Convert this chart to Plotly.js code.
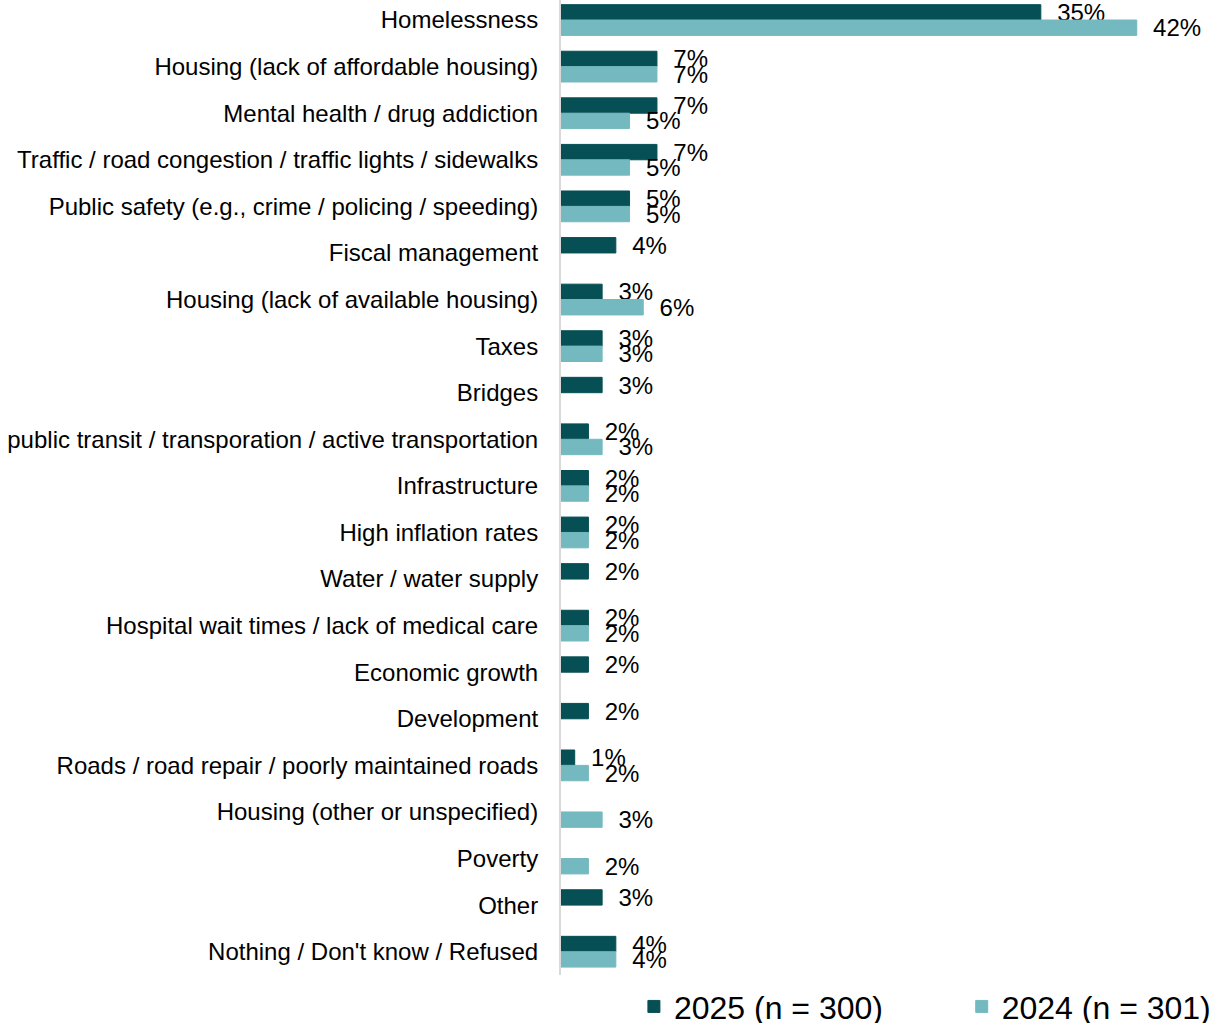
<!DOCTYPE html>
<html>
<head>
<meta charset="utf-8">
<script src="https://cdn.plot.ly/plotly-3.0.1.min.js"></script>
<style>
  html, body { margin: 0; padding: 0; background: #fff; }
  #chart { width: 1230px; height: 1023px; }
</style>
</head>
<body>
<div id="chart"></div>
<script>
const categories = [
  "Homelessness",
  "Housing (lack of affordable housing)",
  "Mental health / drug addiction",
  "Traffic / road congestion / traffic lights / sidewalks",
  "Public safety (e.g., crime / policing / speeding)",
  "Fiscal management",
  "Housing (lack of available housing)",
  "Taxes",
  "Bridges",
  "Improve  public transit / transporation / active transportation",
  "Infrastructure",
  "High inflation rates",
  "Water / water supply",
  "Hospital wait times / lack of medical care",
  "Economic growth",
  "Development",
  "Roads / road repair / poorly maintained roads",
  "Housing (other or unspecified)",
  "Poverty",
  "Other",
  "Nothing / Don't know / Refused"
];
const values2025 = [35, 7, 7, 7, 5, 4, 3, 3, 3, 2, 2, 2, 2, 2, 2, 2, 1, null, null, 3, 4];
const values2024 = [42, 7, 5, 5, 5, null, 6, 3, null, 3, 2, 2, null, 2, null, null, 2, 3, 2, null, 4];
const seriesNames = ["2025 (n = 300)", "2024 (n = 301)"];
const colors = ["#064f55", "#74b9bf"];

const pad = "\u00a0\u00a0";
function labels(vals) { return vals.map(v => v === null ? "" : pad + v + "%"); }

const fontFamily = "Liberation Sans, Arial, sans-serif";

function makeTrace(vals, name, color, legendId) {
  return {
    type: "bar",
    orientation: "h",
    y: categories,
    x: vals,
    name: name,
    legend: legendId,
    marker: { color: color, line: { color: color, width: 1 } },
    text: labels(vals),
    textposition: "outside",
    textfont: { family: fontFamily, size: 24, color: "#000000" },
    constraintext: "none",
    cliponaxis: false,
    hoverinfo: "x+y+name"
  };
}

const data = [
  makeTrace(values2025, seriesNames[0], colors[0], "legend"),
  makeTrace(values2024, seriesNames[1], colors[1], "legend2")
];

const legendBase = {
  orientation: "h",
  xref: "paper",
  xanchor: "left",
  yref: "container",
  y: 0.016,
  yanchor: "middle",
  font: { family: fontFamily, size: 32, color: "#000000" },
  bgcolor: "rgba(0,0,0,0)"
};

const layout = {
  width: 1230,
  height: 1023,
  margin: { l: 561, r: 0, t: 0, b: 48 },
  paper_bgcolor: "#ffffff",
  plot_bgcolor: "#ffffff",
  barmode: "group",
  bargap: 0.34,
  bargroupgap: 0,
  font: { family: fontFamily, size: 24, color: "#000000" },
  xaxis: {
    range: [0, 48.8],
    showgrid: false,
    zeroline: false,
    showticklabels: false,
    ticks: "",
    showline: false
  },
  yaxis: {
    type: "category",
    range: [20.5, -0.43],
    showgrid: false,
    zeroline: false,
    ticks: "",
    showline: true,
    linecolor: "#d9d9d9",
    linewidth: 2,
    ticklabelstandoff: 16,
    tickfont: { family: fontFamily, size: 24, color: "#000000" }
  },
  showlegend: true,
  legend: Object.assign({}, legendBase, { x: 0.109 }),
  legend2: Object.assign({}, legendBase, { x: 0.599 })
};

Plotly.newPlot("chart", data, layout, { displayModeBar: false, staticPlot: true });
</script>
</body>
</html>
